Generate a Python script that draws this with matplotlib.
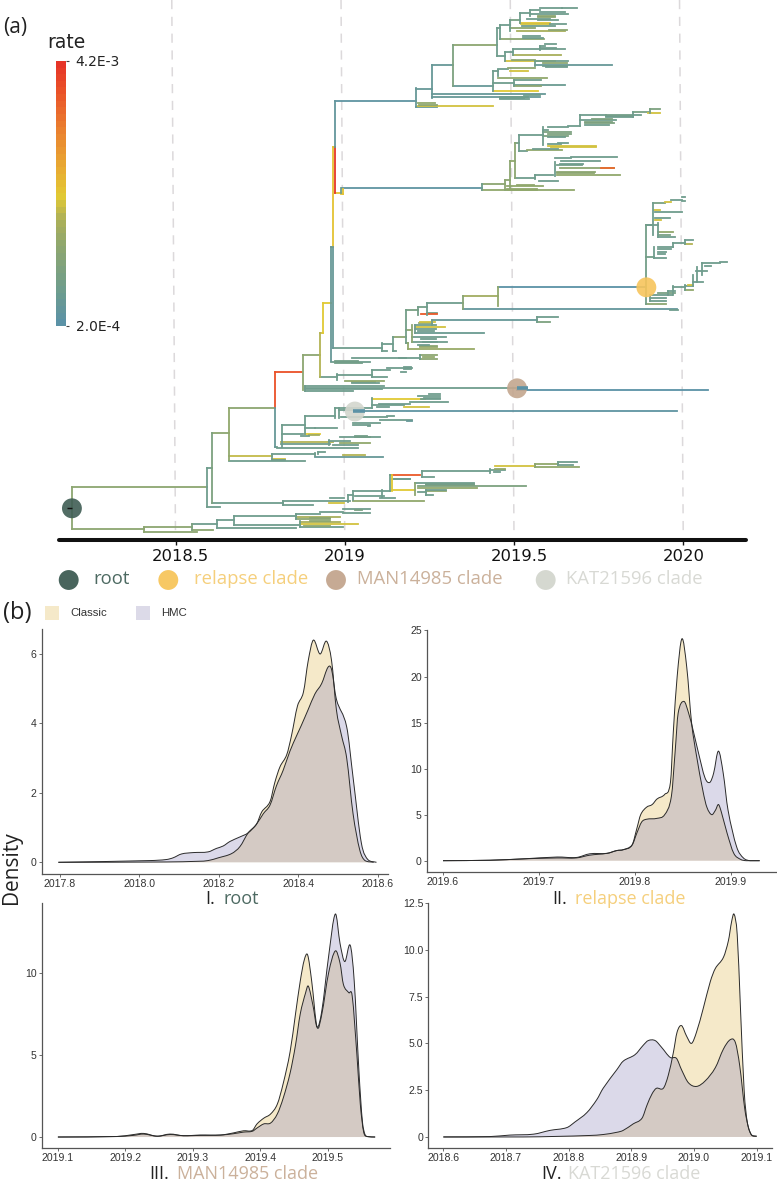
import numpy as np
import matplotlib
matplotlib.use("Agg")
import matplotlib.pyplot as plt
from matplotlib.cm import ScalarMappable
from matplotlib.colors import LinearSegmentedColormap, Normalize
from matplotlib.patches import PathPatch, Rectangle
from matplotlib.path import Path
from matplotlib.transforms import ScaledTranslation

W, H = 777, 1181

# ---------------- tree data ----------------
# time = years after 2018.0, row = vertical slot of the tip, rate in units of 1E-4
TREE_ORIGIN = 2018
# branches: (start, end, row, rate)   stems: (time, row_low, row_high, rate)
early_branches = [
    (0.194, 0.407, 529, 13), (0.407, 0.548, 527, 13), (0.407, 0.564, 532, 13),
    (0.548, 0.623, 524, 7), (0.548, 0.611, 530, 13), (0.623, 0.673, 520, 7),
    (0.623, 0.856, 528, 7), (0.673, 0.856, 516, 7), (0.673, 0.868, 525, 7),
    (0.856, 0.986, 517, 17), (0.856, 0.956, 519, 13), (0.897, 0.956, 518, 13),
    (0.856, 0.927, 514, 7), (0.927, 0.995, 512, 7), (0.995, 1.074, 509, 7),
    (0.995, 1.074, 513, 7), (1.030, 1.051, 510, 9), (0.868, 0.986, 521.7, 17),
    (0.868, 1.039, 524, 20), (0.897, 0.956, 521, 13), (0.868, 0.995, 527, 7),
    (0.880, 0.956, 526, 13),
]
early_stems = [
    (0.194, 487, 529, 13), (0.407, 527, 532, 13), (0.548, 524, 530, 10),
    (0.623, 520, 528, 7), (0.673, 516, 525, 7), (0.856, 514, 519, 7),
    (0.868, 521, 527, 7),
]
spine_branches = [
    (0.194, 0.594, 487, 13), (0.594, 0.608, 468, 7), (0.594, 0.631, 507, 7),
    (0.608, 0.818, 503, 7), (0.608, 0.658, 433, 13), (0.658, 0.794, 408, 13),
    (0.794, 0.875, 372, 37), (0.877, 0.927, 355, 13), (0.927, 0.936, 333, 20),
    (0.936, 0.959, 303, 21), (0.959, 0.965, 247, 7), (0.965, 0.972, 147, 22),
    (0.972, 1.210, 101, 3), (0.972, 0.989, 193, 22), (0.992, 1.406, 188, 3),
    (0.989, 0.995, 194, 22),
]
spine_stems = [
    (0.594, 468, 507, 7), (0.608, 433, 503, 10), (0.658, 408, 460, 14),
    (0.794, 372, 408, 37), (0.794, 408, 447, 5), (0.877, 355, 390, 13),
    (0.927, 333, 377, 18), (0.936, 303, 333, 21), (0.959, 247, 361, 5),
    (0.965, 147, 247, 22), (0.965, 247, 348, 5), (0.972, 147, 193, 42),
    (0.972, 101, 147, 4), (0.989, 188, 193, 7), (0.995, 189, 194, 22),
]
top_branches = [
    (1.210, 1.257, 88.7, 5), (1.257, 1.319, 65, 5), (1.319, 1.449, 44.7, 13),
    (1.319, 1.439, 85.7, 5), (1.449, 1.458, 28, 7), (1.458, 1.488, 24.7, 7),
    (1.458, 1.588, 39, 13), (1.526, 1.576, 36, 7), (1.526, 1.585, 38, 7),
    (1.488, 1.517, 20, 9), (1.488, 1.561, 28, 13), (1.509, 1.650, 31, 17),
    (1.603, 1.656, 30, 13), (1.517, 1.547, 13, 7), (1.517, 1.606, 22.7, 22),
    (1.547, 1.576, 10, 7), (1.576, 1.641, 7.5, 7), (1.641, 1.685, 8, 7),
    (1.576, 1.650, 12, 7), (1.547, 1.659, 14, 7), (1.570, 1.620, 16, 13),
    (1.570, 1.620, 17, 13), (1.538, 1.606, 19, 7), (1.570, 1.630, 19.5, 7),
    (1.520, 1.606, 23.5, 20), (1.606, 1.653, 24, 7), (1.524, 1.621, 26, 7),
    (1.449, 1.473, 56, 7), (1.473, 1.496, 52, 7), (1.496, 1.576, 49, 7),
    (1.576, 1.591, 46, 7), (1.591, 1.624, 43.5, 7), (1.576, 1.624, 48, 7),
    (1.576, 1.650, 49, 7), (1.496, 1.640, 55, 17), (1.473, 1.621, 61, 20),
    (1.495, 1.561, 60, 13), (1.439, 1.452, 71, 7), (1.452, 1.482, 69, 7),
    (1.482, 1.561, 68, 13), (1.561, 1.659, 61, 7), (1.561, 1.789, 65, 5),
    (1.585, 1.656, 63, 13), (1.585, 1.656, 66, 7), (1.595, 1.656, 66.5, 7),
    (1.488, 1.541, 70.5, 20), (1.452, 1.597, 77.7, 14), (1.439, 1.500, 83, 7),
    (1.500, 1.580, 80, 7), (1.500, 1.650, 85, 6), (1.500, 1.580, 86, 13),
    (1.439, 1.570, 90.7, 21), (1.258, 1.591, 93.7, 5), (1.257, 1.578, 97, 5),
    (1.458, 1.540, 96.5, 7), (1.458, 1.545, 99, 7), (1.458, 1.530, 98, 7),
    (1.530, 1.578, 95, 7), (1.210, 1.272, 107, 5), (1.216, 1.438, 106, 20),
    (1.216, 1.266, 102.7, 14), (1.220, 1.272, 105, 13),
]
top_stems = [
    (1.210, 88, 107, 5), (1.257, 65, 98, 5), (1.319, 44.7, 85.7, 10),
    (1.449, 28, 56, 7), (1.458, 24.7, 39, 7), (1.488, 20, 31, 7),
    (1.517, 13, 23, 7), (1.547, 10, 16, 7), (1.473, 52, 61, 7),
    (1.496, 49, 55, 7), (1.576, 46, 50, 7), (1.439, 71, 91, 7),
    (1.452, 70, 76, 7), (1.561, 62, 66, 7), (1.500, 80, 86, 7),
]
second_branches = [
    (1.404, 1.473, 184, 13), (1.404, 1.677, 190, 14), (1.473, 1.488, 180, 13),
    (1.488, 1.503, 160.7, 14), (1.503, 1.515, 143, 9), (1.515, 1.585, 135, 7),
    (1.515, 1.538, 151, 7), (1.538, 1.641, 150, 14), (1.555, 1.630, 149, 7),
    (1.585, 1.600, 130, 7), (1.600, 1.659, 126.7, 7), (1.659, 1.695, 126, 7),
    (1.695, 1.771, 115, 7), (1.771, 1.851, 114.5, 8), (1.771, 1.851, 116, 8),
    (1.771, 1.851, 117, 7), (1.851, 1.901, 111.7, 9), (1.901, 1.932, 109, 10),
    (1.895, 1.932, 112.7, 20), (1.851, 1.876, 115, 7), (1.695, 1.800, 120, 7),
    (1.730, 1.790, 118.5, 10), (1.710, 1.790, 122, 10), (1.710, 1.795, 123, 10),
    (1.710, 1.780, 125, 7), (1.585, 1.668, 132, 10), (1.600, 1.668, 133.5, 10),
    (1.585, 1.660, 135.5, 10), (1.600, 1.650, 137, 7), (1.600, 1.742, 145.7, 20),
    (1.610, 1.742, 146.5, 20), (1.630, 1.660, 142.7, 7), (1.600, 1.640, 144, 7),
    (1.503, 1.561, 178, 7), (1.561, 1.615, 175, 7), (1.573, 1.630, 181, 7),
    (1.621, 1.668, 157.5, 7), (1.668, 1.805, 156.7, 7), (1.638, 1.754, 161, 7),
    (1.635, 1.795, 168, 13), (1.757, 1.795, 167.5, 34), (1.627, 1.813, 175, 14),
    (1.627, 1.740, 172, 13), (1.627, 1.735, 173, 13), (1.627, 1.700, 165, 8),
    (1.635, 1.705, 164, 7), (1.479, 1.585, 186, 14), (1.510, 1.560, 184.5, 14),
    (1.479, 1.567, 190, 14), (1.479, 1.567, 189, 14),
]
second_stems = [
    (1.404, 184, 190, 7), (1.473, 180, 190, 13), (1.488, 161, 188, 13),
    (1.503, 143, 178, 13), (1.515, 135, 151, 7), (1.585, 127, 145, 7),
    (1.695, 115, 126, 7), (1.561, 175, 179, 7), (1.621, 162, 176, 7),
    (1.851, 112, 117, 7), (1.901, 109, 113, 9),
]
relapse_branches = [
    (1.180, 1.216, 310, 9), (1.216, 1.242, 306.7, 8), (1.242, 1.348, 302.7, 7),
    (1.242, 1.272, 313, 8), (1.225, 1.272, 313.5, 36), (1.348, 1.452, 296, 16),
    (1.348, 1.983, 309, 4), (1.960, 1.985, 309.5, 7), (1.452, 1.891, 287.3, 2),
    (1.891, 1.910, 225, 7), (1.910, 1.945, 202.5, 9), (1.945, 1.965, 202, 20),
    (1.965, 1.995, 200, 7), (1.995, 2.005, 197, 7), (1.995, 2.005, 201, 7),
    (1.915, 1.930, 210, 20), (1.916, 1.995, 212.3, 7), (1.916, 1.960, 218.3, 7),
    (1.916, 1.935, 220, 20), (1.925, 1.970, 231.7, 14), (1.925, 1.975, 236.7, 7),
    (1.925, 1.960, 235, 9), (1.891, 1.925, 225, 7), (1.891, 1.915, 257, 8),
    (1.925, 1.965, 249, 7), (1.915, 1.950, 257.5, 7), (1.925, 1.971, 247, 7),
    (1.925, 1.950, 252, 7), (1.925, 1.945, 254, 7), (1.971, 2.004, 242.7, 7),
    (2.004, 2.028, 240, 7), (2.004, 2.025, 244, 18), (1.891, 1.948, 304, 13),
    (1.901, 1.968, 295, 7), (1.970, 2.004, 287, 7), (2.004, 2.029, 286, 7),
    (2.004, 2.029, 290, 14), (2.015, 2.029, 285, 20), (2.029, 2.058, 281.7, 7),
    (2.037, 2.070, 270.7, 7), (2.055, 2.108, 263, 7), (2.108, 2.128, 261.7, 7),
    (2.064, 2.082, 266, 7), (1.901, 1.948, 298, 7), (1.901, 1.950, 301, 7),
    (1.925, 1.975, 293, 9), (1.955, 1.975, 291, 7),
]
relapse_stems = [
    (1.180, 310, 343, 8), (1.216, 307, 315, 8), (1.242, 302.7, 315, 7),
    (1.348, 296, 309, 12), (1.452, 287, 306, 14), (1.891, 225, 304, 8),
    (1.910, 203, 235, 7), (1.925, 223, 237, 7), (1.915, 247, 258, 7),
    (1.971, 243, 247, 7), (2.004, 240, 244, 7), (1.970, 286, 295, 7),
    (2.004, 285, 290, 7), (2.029, 275, 286, 7), (2.040, 267, 282, 7),
    (2.055, 263, 275, 7), (1.901, 295, 301, 7), (1.955, 291, 295, 7),
]
middle_branches = [
    (1.180, 1.199, 330, 13), (1.258, 1.567, 320, 5), (1.567, 1.630, 316.7, 7),
    (1.567, 1.606, 321.7, 10), (1.220, 1.258, 323, 13), (1.222, 1.266, 322, 20),
    (1.208, 1.296, 327, 20), (1.208, 1.270, 325, 7), (1.208, 1.270, 329, 7),
    (1.215, 1.265, 330.5, 7), (1.208, 1.411, 332.7, 6), (1.199, 1.302, 341.7, 7),
    (1.199, 1.300, 336.7, 7), (1.225, 1.270, 339, 7), (1.230, 1.272, 342, 7),
    (1.187, 1.382, 348.7, 15), (1.222, 1.272, 347, 15), (1.222, 1.272, 346, 13),
    (1.215, 1.250, 345, 7), (0.965, 1.110, 348, 7), (1.110, 1.125, 351, 7),
    (1.110, 1.143, 343.5, 7), (1.143, 1.180, 337, 13), (1.143, 1.152, 351, 7),
    (1.180, 1.187, 343, 8), (1.160, 1.180, 357.7, 7), (1.020, 1.222, 357.7, 7),
    (1.222, 1.272, 355, 13), (1.222, 1.272, 359, 13), (1.230, 1.265, 357, 14),
    (0.959, 1.075, 361.7, 7), (0.970, 1.040, 360.5, 8), (0.970, 1.050, 362.5, 8),
    (0.927, 0.977, 376.7, 7), (0.977, 1.081, 375, 7), (1.081, 1.133, 370, 7),
    (1.125, 1.199, 368, 7), (1.175, 1.195, 367, 7), (1.175, 1.195, 369, 7),
    (1.165, 1.180, 372, 7), (1.081, 1.125, 376.7, 7), (1.000, 1.115, 381, 14),
    (1.020, 1.090, 382, 14), (1.020, 1.100, 383, 7), (0.883, 1.115, 386, 7),
    (0.883, 1.024, 390.7, 7), (0.883, 1.110, 389, 7), (0.883, 1.509, 388.3, 7),
    (1.509, 2.073, 389.5, 2),
]
middle_stems = [
    (1.258, 320, 325, 7), (1.567, 316.7, 322, 7), (1.199, 325, 342, 13),
    (1.208, 325, 333, 7), (1.187, 343, 349, 14), (1.110, 343, 351, 7),
    (1.143, 337, 351, 7), (0.977, 374, 380, 7), (1.081, 370, 377, 7),
    (0.883, 386, 391, 7), (1.222, 355, 359, 7),
]
kat_branches = [
    (0.794, 0.800, 447, 7), (0.800, 1.039, 448, 7), (0.812, 0.965, 441.7, 18),
    (0.812, 0.955, 444, 7), (0.814, 0.883, 425, 7), (0.883, 0.971, 416, 7),
    (0.814, 0.877, 434.3, 7), (0.883, 0.912, 428, 7), (0.912, 0.977, 427.7, 7),
    (0.883, 0.927, 434, 21), (0.895, 0.925, 435, 16), (0.872, 0.895, 436, 7),
    (0.971, 0.983, 408.3, 7), (0.983, 1.081, 408, 7), (1.081, 1.237, 399, 21),
    (1.215, 1.281, 396, 7), (1.225, 1.281, 399, 7), (1.235, 1.281, 398, 7),
    (1.250, 1.280, 393.5, 7), (1.081, 1.176, 405, 7), (1.193, 1.305, 401.7, 7),
    (1.100, 1.193, 403.5, 7), (1.176, 1.249, 407.3, 20), (1.095, 1.130, 407, 7),
    (1.036, 1.983, 410.7, 3), (0.983, 1.024, 410, 7), (0.990, 1.125, 416.7, 7),
    (1.125, 1.145, 416, 7), (1.024, 1.105, 422.7, 7), (1.105, 1.198, 420, 7),
    (1.185, 1.198, 421, 5), (1.024, 1.074, 425, 7), (1.068, 1.074, 426, 7),
    (0.952, 1.015, 440.7, 7), (0.986, 1.104, 436.7, 7), (1.030, 1.065, 436, 8),
    (1.030, 1.075, 437, 8), (0.986, 1.075, 443, 14), (0.965, 1.040, 445, 7),
    (0.658, 0.785, 456, 19), (0.785, 0.912, 454, 7), (0.912, 1.113, 456.7, 5),
    (0.921, 0.942, 451.7, 7), (0.995, 1.060, 455, 18), (0.785, 0.823, 459, 20),
    (0.658, 0.883, 460.7, 7), (0.785, 0.823, 460, 7),
]
kat_stems = [
    (0.814, 425, 447, 7), (0.883, 416, 434, 7), (0.971, 408, 418, 7),
    (0.983, 408, 418, 7), (1.081, 398, 408, 7), (0.952, 440, 445, 7),
    (0.785, 454, 460, 7), (0.912, 452.7, 456, 7), (0.921, 452, 454, 7),
]
lower_branches = [
    (0.818, 0.907, 504.7, 7), (0.818, 1.015, 501, 7), (1.010, 1.024, 495, 7),
    (0.953, 0.998, 502.7, 20), (0.955, 0.998, 498, 7), (1.023, 1.133, 490.7, 7),
    (1.024, 1.234, 501, 14), (1.030, 1.115, 496, 7), (1.104, 1.148, 497.7, 7),
    (1.133, 1.139, 475, 7), (1.139, 1.222, 475, 36), (1.139, 1.192, 479, 7),
    (1.145, 1.192, 478.5, 7), (1.139, 1.207, 490, 21), (1.227, 1.429, 471, 7),
    (1.227, 1.265, 476.7, 7), (1.429, 1.473, 470, 7), (1.445, 1.473, 469, 14),
    (1.440, 1.460, 472, 7), (1.444, 1.561, 465.7, 20), (1.561, 1.630, 464, 14),
    (1.561, 1.692, 467.3, 14), (1.630, 1.685, 462, 7), (1.630, 1.673, 465, 7),
    (1.207, 1.382, 483.3, 7), (1.240, 1.382, 484, 8), (1.240, 1.382, 485, 8),
    (1.215, 1.535, 485.7, 10), (1.215, 1.391, 488.3, 14), (1.240, 1.300, 491, 14),
    (1.240, 1.300, 490, 7), (1.240, 1.260, 494.7, 7), (1.215, 1.240, 492, 7),
]
lower_stems = [
    (0.818, 501, 505, 7), (1.010, 495, 502, 7), (1.024, 490.7, 500, 7),
    (1.110, 490, 497, 7), (1.133, 475, 491, 7), (1.139, 475, 491, 21),
    (1.227, 471, 477, 7), (1.429, 469, 473, 7), (1.561, 464, 467, 13),
    (1.630, 462, 465, 7), (1.207, 483, 495, 13), (1.240, 490, 495, 7),
]
# short stretches drawn heavier in the original
heavy_branches = [(1.509, 1.540, 388.3, 2), (1.024, 1.060, 411, 2)]

clade_names = ["root", "relapse clade", "MAN14985 clade", "KAT21596 clade"]
clade_colors = ["#3f5d54", "#f7c55c", "#c3a68e", "#d3d6ce"]
clade_text_colors = ["#4d6a62", "#f5cf7c", "#cbb19b", "#d8d9d4"]
clade_times = [0.194, 1.891, 1.509, 1.030]
clade_rows = [508.3, 287.3, 388.3, 411.5]

year_ticks = [2018.5, 2019, 2019.5, 2020]
year_labels = ["2018.5", "2019", "2019.5", "2020"]

rate_nodes = [0.0, 0.12, 0.3, 0.4, 0.49, 0.6, 0.75, 0.9, 1.0]
rate_colors = ["#5b92a6", "#6d9c8e", "#8fa76e", "#adb058", "#e3ca33",
               "#e8aa32", "#ea7f2f", "#ea5028", "#e63528"]

# ---------------- density data ----------------
root_classic_x = [2017.796, 2018.068, 2018.150, 2018.173, 2018.199, 2018.232, 2018.253, 2018.274, 2018.295,
                  2018.308, 2018.329, 2018.341, 2018.354, 2018.371, 2018.383, 2018.398, 2018.413, 2018.425,
                  2018.438, 2018.455, 2018.471, 2018.484, 2018.496, 2018.509, 2018.522, 2018.538, 2018.555,
                  2018.568, 2018.590]
root_classic_y = [0, 0.01, 0.03, 0.05, 0.13, 0.25, 0.45, 0.85, 1.1,
                  1.45, 1.75, 2.3, 2.75, 3.1, 3.65, 4.5, 4.9, 5.8,
                  6.4, 6.0, 6.37, 5.8, 4.4, 3.65, 3.0, 1.4, 0.35, 0.05, 0]
root_hmc_x = [2017.796, 2018.027, 2018.068, 2018.085, 2018.106, 2018.136, 2018.173, 2018.194, 2018.211,
              2018.228, 2018.253, 2018.274, 2018.295, 2018.312, 2018.329, 2018.345, 2018.362, 2018.379,
              2018.396, 2018.408, 2018.425, 2018.442, 2018.459, 2018.475, 2018.484, 2018.496, 2018.522,
              2018.538, 2018.559, 2018.576, 2018.597]
root_hmc_y = [0, 0.05, 0.08, 0.13, 0.24, 0.28, 0.3, 0.4, 0.47,
              0.6, 0.73, 0.85, 1.1, 1.4, 1.65, 2.2, 2.65, 3.2,
              3.65, 3.95, 4.4, 4.85, 5.15, 5.62, 5.55, 4.7, 3.9,
              2.45, 0.55, 0.07, 0]

relapse_classic_x = [2019.600, 2019.649, 2019.684, 2019.719, 2019.739, 2019.753, 2019.771, 2019.781, 2019.788,
                     2019.797, 2019.802, 2019.806, 2019.812, 2019.818, 2019.823, 2019.831, 2019.837, 2019.840,
                     2019.844, 2019.849, 2019.854, 2019.859, 2019.864, 2019.871, 2019.875, 2019.880, 2019.884,
                     2019.887, 2019.890, 2019.896, 2019.903, 2019.910, 2019.916, 2019.930]
relapse_classic_y = [0, 0.05, 0.2, 0.3, 0.3, 0.6, 0.8, 1.1, 1.2,
                     1.7, 3.5, 5, 5.8, 6.1, 6.7, 7.2, 8.5, 14,
                     20, 24.1, 21, 15, 11.5, 7.5, 5.8, 5, 5.5,
                     6.1, 5.3, 3, 0.8, 0.15, 0, 0]
relapse_hmc_x = [2019.600, 2019.649, 2019.684, 2019.719, 2019.739, 2019.753, 2019.771, 2019.781, 2019.788,
                 2019.797, 2019.802, 2019.807, 2019.812, 2019.823, 2019.831, 2019.838, 2019.842, 2019.845,
                 2019.851, 2019.856, 2019.861, 2019.866, 2019.873, 2019.878, 2019.882, 2019.887, 2019.892,
                 2019.897, 2019.906, 2019.913, 2019.920, 2019.930]
relapse_hmc_y = [0, 0.05, 0.2, 0.4, 0.35, 0.75, 0.8, 1.1, 1.2,
                 1.7, 3, 4.2, 4.5, 4.6, 5, 7, 12, 16,
                 17.3, 16, 14, 11.8, 9, 8.5, 9.5, 11.9, 9.5,
                 5.5, 1.5, 0.3, 0, 0]

man_classic_x = [2019.100, 2019.187, 2019.212, 2019.227, 2019.247, 2019.266, 2019.286, 2019.311, 2019.341,
                 2019.360, 2019.375, 2019.388, 2019.395, 2019.405, 2019.415, 2019.425, 2019.434, 2019.444,
                 2019.452, 2019.459, 2019.465, 2019.470, 2019.476, 2019.484, 2019.491, 2019.501, 2019.511,
                 2019.518, 2019.523, 2019.531, 2019.536, 2019.543, 2019.548, 2019.553, 2019.558, 2019.570]
man_classic_y = [0, 0.03, 0.15, 0.22, 0.05, 0.18, 0.08, 0.12, 0.12,
                 0.25, 0.38, 0.4, 0.8, 1.15, 1.4, 2, 3.3, 5.2,
                 7.5, 9.5, 10.8, 11.1, 9.5, 6.7, 7.5, 10, 11.35,
                 10.6, 9.3, 8.8, 8.6, 5, 2, 0.3, 0.03, 0]
man_hmc_x = [2019.100, 2019.187, 2019.212, 2019.227, 2019.247, 2019.266, 2019.286, 2019.311, 2019.341,
             2019.360, 2019.375, 2019.388, 2019.395, 2019.405, 2019.415, 2019.425, 2019.434, 2019.444,
             2019.452, 2019.459, 2019.467, 2019.471, 2019.478, 2019.484, 2019.491, 2019.501, 2019.511,
             2019.518, 2019.525, 2019.533, 2019.539, 2019.546, 2019.551, 2019.555, 2019.560, 2019.570]
man_hmc_y = [0, 0.03, 0.1, 0.18, 0.05, 0.15, 0.08, 0.1, 0.12,
             0.2, 0.3, 0.35, 0.55, 0.8, 0.85, 1.4, 2.4, 3.9,
             5.6, 7.5, 8.8, 9.2, 8, 6.7, 7.7, 11, 13.6,
             11.8, 10.7, 11.7, 9.5, 4, 1, 0.15, 0.02, 0]

kat_classic_x = [2018.600, 2018.728, 2018.781, 2018.834, 2018.855, 2018.877, 2018.887, 2018.903, 2018.917,
                 2018.925, 2018.933, 2018.940, 2018.951, 2018.959, 2018.967, 2018.973, 2018.980, 2018.988,
                 2018.996, 2019.004, 2019.015, 2019.026, 2019.034, 2019.047, 2019.055, 2019.060, 2019.064,
                 2019.069, 2019.074, 2019.080, 2019.085, 2019.091, 2019.097, 2019.100]
kat_classic_y = [0, 0, 0.03, 0.08, 0.13, 0.25, 0.35, 0.7, 1.0,
                 1.7, 2.3, 2.6, 2.6, 3.3, 4.5, 5.6, 5.95, 5.4,
                 5.0, 5.6, 6.9, 8.3, 9.0, 9.6, 10.5, 11.5, 11.9,
                 10.8, 7, 2.5, 0.8, 0.15, 0.05, 0.05]
kat_hmc_x = [2018.600, 2018.674, 2018.706, 2018.744, 2018.770, 2018.797, 2018.810, 2018.829, 2018.845,
             2018.855, 2018.877, 2018.887, 2018.906, 2018.919, 2018.927, 2018.938, 2018.948, 2018.962,
             2018.972, 2018.980, 2018.991, 2019.004, 2019.018, 2019.034, 2019.047, 2019.058, 2019.066,
             2019.073, 2019.081, 2019.087, 2019.092, 2019.100]
kat_hmc_y = [0, 0.02, 0.1, 0.15, 0.35, 0.5, 0.8, 1.3, 2.0,
             2.6, 3.6, 4.05, 4.4, 4.9, 5.15, 5.15, 4.8, 4.25,
             4.2, 3.6, 2.9, 2.7, 3.0, 3.7, 4.7, 5.2, 5.05,
             3.8, 1.5, 0.5, 0.1, 0.03]

CLASSIC_FILL = "#f5e9c9"
HMC_COLOR = "#8a84b9"
HMC_LEGEND = "#dcdae8"
MYRIAD = ["Open Sans", "DejaVu Sans"]
HELV = ["Liberation Sans", "DejaVu Sans"]
WIDE = "DejaVu Sans"
TREE_LW = 1.3


def fig_box(left, top, right, bottom):
    return [left / W, 1 - bottom / H, (right - left) / W, (bottom - top) / H]


def label(x, y, text, **kw):
    kw.setdefault("va", "center")
    fig.text(x / W, 1 - y / H, text, **kw)


def curve_path(xs, ys, close=False):
    # bezier path through the read points, the density outlines are smooth in the original
    xs = np.asarray(xs, float)
    ys = np.asarray(ys, float)
    slope = np.gradient(ys, xs)
    slope[1:-1] = (ys[2:] - ys[:-2]) / (xs[2:] - xs[:-2])
    verts = [(xs[0], ys[0])]
    codes = [Path.MOVETO]
    for i in range(len(xs) - 1):
        h = (xs[i + 1] - xs[i]) / 3
        verts += [(xs[i] + h, max(ys[i] + slope[i] * h, 0)),
                  (xs[i + 1] - h, max(ys[i + 1] - slope[i + 1] * h, 0)),
                  (xs[i + 1], ys[i + 1])]
        codes += [Path.CURVE4] * 3
    if close:
        verts += [(xs[-1], 0), (xs[0], 0), (xs[0], ys[0])]
        codes += [Path.LINETO, Path.LINETO, Path.CLOSEPOLY]
    return Path(verts, codes)


fig = plt.figure(figsize=(W / 100, H / 100), dpi=100)

# ---------------- (a) tree ----------------
px_per_year = 338.5
ax = fig.add_axes(fig_box(0, 0, W, 540))
ax.set_xlim(2018.5 - 175.5 / px_per_year, 2018.5 + (W - 175.5) / px_per_year)
ax.set_ylim(540, 0)
ax.patch.set_visible(False)

rate_cmap = LinearSegmentedColormap.from_list("rate", list(zip(rate_nodes, rate_colors)), N=40)
rate_norm = Normalize(2, 42)

for yr in year_ticks:
    # the original panel is very slightly tilted, hence the small shift at the top
    ax.plot([yr - 0.011, yr], [0, 537], color="#dcd9db", lw=1.1, dashes=(6, 5), zorder=1)

branch_groups = [early_branches, spine_branches, top_branches, second_branches,
                 relapse_branches, middle_branches, kat_branches, lower_branches]
stem_groups = [early_stems, spine_stems, top_stems, second_stems,
               relapse_stems, middle_stems, kat_stems, lower_stems]
for group in branch_groups:
    start, end, row, rate = np.array(group).T
    ax.hlines(row, start + TREE_ORIGIN, end + TREE_ORIGIN, colors=rate_cmap(rate_norm(rate)),
              lw=TREE_LW, capstyle="projecting", zorder=2)
for group in stem_groups:
    time, low, high, rate = np.array(group).T
    ax.vlines(time + TREE_ORIGIN, low, high, colors=rate_cmap(rate_norm(rate)),
              lw=TREE_LW, capstyle="projecting", zorder=2)

ax.scatter(np.array(clade_times) + TREE_ORIGIN, clade_rows, s=205, c=clade_colors,
           alpha=0.9, linewidths=0, zorder=3)
start, end, row, rate = np.array(heavy_branches).T
ax.hlines(row, start + TREE_ORIGIN, end + TREE_ORIGIN, colors=rate_cmap(rate_norm(rate)), lw=2.6, zorder=4)
ax.hlines(clade_rows[0], 0.194 + TREE_ORIGIN - 0.014, 0.194 + TREE_ORIGIN, colors="#111111", lw=1.0, zorder=4)

for side in ["top", "left", "right"]:
    ax.spines[side].set_visible(False)
ax.spines["bottom"].set_linewidth(2.9)
ax.spines["bottom"].set_color("#111111")
ax.spines["bottom"].set_capstyle("round")
ax.spines["bottom"].set_bounds(2018.5 + (59 - 175.5) / px_per_year, 2018.5 + (746 - 175.5) / px_per_year)
ax.set_yticks([])
ax.set_xticks(year_ticks)
ax.set_xticklabels(year_labels, family=WIDE, fontsize=11.8, color="#111111")
ax.tick_params(axis="x", length=3.5, width=1.0, color="#111111", pad=3)
for lab, txt in zip(ax.get_xticklabels(), year_labels):
    if "." in txt:
        lab.set_transform(lab.get_transform() + ScaledTranslation(0.05, 0, fig.dpi_scale_trans))

# rate legend
cax = fig.add_axes(fig_box(55.5, 61, 66, 326))
cb = fig.colorbar(ScalarMappable(norm=rate_norm, cmap=rate_cmap), cax=cax)
cb.outline.set_visible(False)
cb.set_ticks([2, 42])
cb.set_ticklabels(["2.0E-4", "4.2E-3"], family=WIDE, fontsize=10, color="#222222")
cb.ax.tick_params(length=2, width=0.8, color="#444444", pad=5)
label(47, 43, "rate", family=WIDE, fontsize=13.5, color="#222222")
label(3, 28, "(a)", family=MYRIAD, fontsize=15, color="#222222")

# clade key below the axis, drawn on a see-through axes in pixel units
key = fig.add_axes([0, 0, 1, 1])
key.set_xlim(0, W)
key.set_ylim(H, 0)
key.axis("off")
key.patch.set_visible(False)
key_x = [68.7, 168.3, 336, 545.7]
key.scatter(key_x, [580] * 4, s=205, c=clade_colors, alpha=0.95, linewidths=0)
key_text_x = [93, 194, 357, 566]
for x, name, col in zip(key_text_x, clade_names, clade_text_colors):
    label(x, 579, name, family=MYRIAD, fontsize=13.3, color=col)

# ---------------- (b) densities ----------------
label(3, 613, "(b)", family=MYRIAD, fontsize=17, color="#222222")
key.add_patch(Rectangle((45, 606), 13.5, 13.5, color=CLASSIC_FILL, lw=0))
key.add_patch(Rectangle((136, 606), 13.5, 13.5, color=HMC_LEGEND, lw=0))
label(70, 612.5, "Classic", family=HELV, fontsize=8.2, color="#333333")
label(161, 612.5, "HMC", family=HELV, fontsize=8.2, color="#333333")
label(12, 868, "Density", family=MYRIAD, fontsize=15, rotation=90, ha="center", color="#222222")


def density_panel(box, xlim, ylim, xticks, yticks, ylabels, classic, hmc):
    a = fig.add_axes(fig_box(*box))
    a.add_patch(PathPatch(curve_path(*classic, close=True), facecolor=CLASSIC_FILL, edgecolor="none"))
    a.add_patch(PathPatch(curve_path(*hmc, close=True), facecolor=HMC_COLOR, edgecolor="none", alpha=0.3))
    for series in (classic, hmc):
        a.add_patch(PathPatch(curve_path(*series), facecolor="none", edgecolor="#2a2a2a", lw=0.7))
    a.set_xlim(xlim)
    a.set_ylim(ylim)
    a.set_xticks(xticks)
    a.set_xticklabels([f"{t:.1f}" for t in xticks], family=HELV, fontsize=7.6, color="#333333")
    a.set_yticks(yticks)
    a.set_yticklabels(ylabels, family=HELV, fontsize=7.6, color="#333333")
    a.tick_params(length=2, width=0.6, color="#555555", pad=1.5)
    a.spines["top"].set_visible(False)
    a.spines["right"].set_visible(False)
    for side in ["left", "bottom"]:
        a.spines[side].set_linewidth(0.9)
        a.spines[side].set_color("#555555")
    a.patch.set_visible(False)
    return a


density_panel((41.7, 629, 388, 874), (2017.754, 2018.626), (-0.337, 6.72),
              [2017.8, 2018.0, 2018.2, 2018.4, 2018.6], [0, 2, 4, 6], ["0", "2", "4", "6"],
              (root_classic_x, root_classic_y), (root_hmc_x, root_hmc_y))
density_panel((426.7, 630, 776, 872.3), (2019.583, 2019.947), (-1.26, 25.05),
              [2019.6, 2019.7, 2019.8, 2019.9], [0, 5, 10, 15, 20, 25], ["0", "5", "10", "15", "20", "25"],
              (relapse_classic_x, relapse_classic_y), (relapse_hmc_x, relapse_hmc_y))
density_panel((41.7, 902.7, 390, 1148), (2019.076, 2019.592), (-0.67, 14.29),
              [2019.1, 2019.2, 2019.3, 2019.4, 2019.5], [0, 5, 10], ["0", "5", "10"],
              (man_classic_x, man_classic_y), (man_hmc_x, man_hmc_y))
density_panel((428.3, 903, 771.7, 1148), (2018.576, 2019.124), (-0.59, 12.5),
              [2018.6, 2018.7, 2018.8, 2018.9, 2019.0, 2019.1], [0, 2.5, 5, 7.5, 10, 12.5],
              ["0", "2.5", "5.0", "7.5", "10.0", "12.5"],
              (kat_classic_x, kat_classic_y), (kat_hmc_x, kat_hmc_y))

caption_rows = [899, 899, 1174, 1174]
caption_marks = ["I.", "II.", "III.", "IV."]
caption_mark_x = [205, 552, 149, 541]
caption_name_x = [223, 575, 177, 568]
for y, mark, mx, nx, name, col in zip(caption_rows, caption_marks, caption_mark_x, caption_name_x,
                                      clade_names, clade_text_colors):
    label(mx, y, mark, family=MYRIAD, fontsize=13, color="#222222")
    label(nx, y, name, family=MYRIAD, fontsize=13, color=col)

fig.savefig("out.png", dpi=100)
